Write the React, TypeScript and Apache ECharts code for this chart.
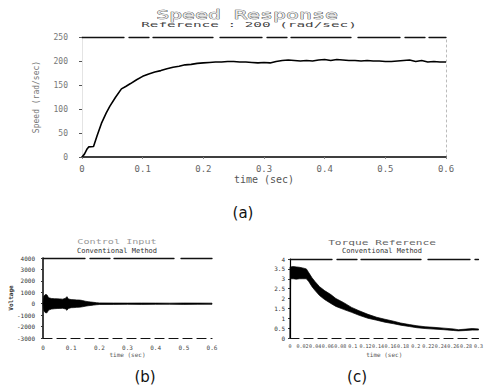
import React, { useEffect, useRef } from "react";
import * as echarts from "echarts";

// (a) Speed response, reference 200 rad/sec
const speedTime = [
  0, 0.004, 0.008, 0.011, 0.019, 0.025, 0.032, 0.04, 0.046, 0.055, 0.065, 0.072,
  0.08, 0.09, 0.1, 0.11, 0.12, 0.13, 0.14, 0.15, 0.16, 0.17, 0.18, 0.19, 0.2,
  0.21, 0.22, 0.23, 0.24, 0.25, 0.26, 0.27, 0.28, 0.29, 0.3, 0.31, 0.32, 0.33,
  0.34, 0.35, 0.36, 0.37, 0.38, 0.39, 0.4, 0.41, 0.42, 0.43, 0.44, 0.45, 0.46,
  0.47, 0.48, 0.49, 0.5, 0.51, 0.52, 0.53, 0.54, 0.55, 0.56, 0.57, 0.58, 0.59, 0.6,
];
const speedValue = [
  0, 6, 16, 21, 22, 45, 70, 92, 106, 124, 142, 147,
  153, 161, 168, 173, 177, 180, 184, 187, 189, 192, 193, 195, 196,
  197, 198, 198, 199, 199, 198, 198, 197, 196, 197, 196, 199, 201,
  202, 201, 200, 201, 200, 202, 203, 201, 203, 202, 201, 201, 200,
  201, 200, 200, 199, 199, 200, 201, 202, 199, 201, 198, 199, 198, 198,
];

// (b) Control input envelope (dense oscillation band)
const ctrlTime = [
  0, 0.003, 0.008, 0.014, 0.02, 0.03, 0.04, 0.05, 0.06, 0.07, 0.08, 0.085, 0.09,
  0.1, 0.11, 0.12, 0.13, 0.14, 0.15, 0.16, 0.17, 0.18, 0.19, 0.2, 0.25, 0.3,
  0.35, 0.4, 0.45, 0.5, 0.55, 0.6,
];
const ctrlUpper = [
  0, 650, 800, 780, 520, 460, 440, 430, 420, 400, 480, 620, 420,
  360, 350, 330, 320, 280, 220, 180, 150, 120, 90, 70, 60, 55,
  60, 55, 50, 60, 55, 50,
];
const ctrlLower = [
  0, -600, -780, -800, -560, -470, -440, -420, -410, -400, -460, -580, -410,
  -350, -340, -320, -300, -270, -220, -180, -150, -120, -90, -70, -60, -55,
  -60, -55, -50, -60, -55, -50,
];

// (c) Torque reference envelope
const torqueTime = [
  0, 0.001, 0.005, 0.01, 0.015, 0.02, 0.026, 0.03, 0.035, 0.04, 0.047, 0.055,
  0.065, 0.073, 0.085, 0.098, 0.11, 0.124, 0.138, 0.151, 0.165, 0.176, 0.19,
  0.202, 0.215, 0.229, 0.245, 0.26, 0.268, 0.28, 0.29, 0.3,
];
const torqueUpper = [
  3.6, 3.6, 3.62, 3.6, 3.58, 3.55, 3.5, 3.3, 3.05, 2.85, 2.6, 2.4,
  2.2, 2.0, 1.8, 1.55, 1.38, 1.2, 1.05, 0.95, 0.85, 0.76, 0.68,
  0.62, 0.57, 0.54, 0.5, 0.46, 0.42, 0.45, 0.48, 0.46,
];
const torqueLower = [
  0, 3.0, 3.0, 2.98, 3.0, 3.0, 3.0, 2.85, 2.6, 2.4, 2.15, 1.95,
  1.75, 1.6, 1.45, 1.3, 1.15, 1.0, 0.9, 0.8, 0.72, 0.65, 0.58,
  0.52, 0.48, 0.45, 0.42, 0.38, 0.36, 0.38, 0.4, 0.4,
];

const MONO = "'DejaVu Sans Mono', monospace";
const SANS = "'DejaVu Sans', sans-serif";

const fmt = (v: number) => String(+v.toFixed(2));

function bandRenderItem(params: any, api: any) {
  if (params.dataIndexInside !== 0) return null;
  const n = params.dataInsideLength;
  const top: number[][] = [];
  const bottom: number[][] = [];
  for (let i = 0; i < n; i++) {
    const t = api.value(0, i);
    top.push(api.coord([t, api.value(2, i)]));
    bottom.push(api.coord([t, api.value(1, i)]));
  }
  const points = top.concat(bottom.reverse());
  return {
    type: "polygon",
    shape: { points },
    style: { fill: "#000", stroke: "#000", lineWidth: 0.7 },
  };
}

const frameTop = (gridIndex: number, max: number) => ({
  gridIndex,
  type: "value",
  min: 0,
  max,
  position: "top",
  axisLine: { onZero: false, lineStyle: { color: "#111", width: 1.3, type: [42, 5, 20, 4, 60, 7] } },
  axisTick: { show: false },
  axisLabel: { show: false },
  splitLine: { show: false },
});

export default function App() {
  const ref = useRef<HTMLDivElement>(null);
  useEffect(() => {
    if (!ref.current) return;
    const chart = echarts.init(ref.current, undefined, { renderer: "svg" });
    const option: any = {
      animation: false,
      backgroundColor: "#fff",
      grid: [
        { left: 82, top: 37, width: 364, height: 120 },
        { left: 43, top: 258, width: 169, height: 80 },
        { left: 290, top: 259, width: 194, height: 79 },
      ],
      xAxis: [
        {
          gridIndex: 0,
          type: "value",
          min: 0,
          max: 0.6,
          interval: 0.1,
          axisLine: { onZero: false, lineStyle: { color: "#000", width: 1.5 } },
          axisTick: { show: true, length: 2, lineStyle: { color: "#888" } },
          axisLabel: { fontSize: 9, fontFamily: MONO, color: "#666", margin: 7, formatter: fmt },
          splitLine: { show: false },
          name: "time (sec)",
          nameLocation: "middle",
          nameGap: 17,
          nameTextStyle: { fontSize: 10, fontFamily: MONO, color: "#555" },
        },
        frameTop(0, 0.6),
        {
          gridIndex: 1,
          type: "value",
          min: 0,
          max: 0.6,
          interval: 0.1,
          axisLine: { onZero: false, lineStyle: { color: "#111", width: 1.2, type: [9, 5] } },
          axisTick: { show: false },
          axisLabel: { fontSize: 6, fontFamily: MONO, color: "#444", margin: 6, formatter: fmt },
          splitLine: { show: false },
          name: "time (sec)",
          nameLocation: "middle",
          nameGap: 13,
          nameTextStyle: { fontSize: 6, fontFamily: MONO, color: "#555" },
        },
        frameTop(1, 0.6),
        {
          gridIndex: 2,
          type: "value",
          min: 0,
          max: 0.3,
          interval: 0.02,
          axisLine: { onZero: false, lineStyle: { color: "#111", width: 1.2, type: [9, 5] } },
          axisTick: { show: false },
          axisLabel: { fontSize: 5, fontFamily: MONO, color: "#444", margin: 5, interval: 0, formatter: fmt },
          splitLine: { show: false },
          name: "time (sec)",
          nameLocation: "middle",
          nameGap: 13,
          nameTextStyle: { fontSize: 6, fontFamily: MONO, color: "#555" },
        },
        frameTop(2, 0.3),
      ],
      yAxis: [
        {
          gridIndex: 0,
          type: "value",
          min: 0,
          max: 250,
          interval: 50,
          axisLine: { show: true, onZero: false, lineStyle: { color: "#e4e4e4", width: 1 } },
          axisTick: { show: true, length: 3, lineStyle: { color: "#555" } },
          axisLabel: { fontSize: 8, fontFamily: MONO, color: "#777", margin: 14 },
          splitLine: { show: false },
          name: "Speed (rad/sec)",
          nameLocation: "middle",
          nameGap: 42,
          nameTextStyle: { fontSize: 8, fontFamily: MONO, color: "#777" },
        },
        {
          gridIndex: 0,
          type: "value",
          min: 0,
          max: 250,
          position: "right",
          axisLine: { show: true, onZero: false, lineStyle: { color: "#bbb", width: 1, type: [2, 3] } },
          axisTick: { show: false },
          axisLabel: { show: false },
          splitLine: { show: false },
        },
        {
          gridIndex: 1,
          type: "value",
          min: -3000,
          max: 4000,
          interval: 1000,
          axisLine: { show: true, onZero: false, lineStyle: { color: "#000", width: 1.5 } },
          axisTick: { show: true, length: 2, lineStyle: { color: "#333" } },
          axisLabel: { fontSize: 6, fontFamily: MONO, color: "#333", margin: 8, formatter: (v: number) => String(v) },
          splitLine: { show: false },
          name: "Voltage",
          nameLocation: "middle",
          nameGap: 29,
          nameTextStyle: { fontSize: 6, fontFamily: MONO, color: "#333", fontWeight: "bold" },
        },
        {
          gridIndex: 2,
          type: "value",
          min: 0,
          max: 4,
          interval: 0.5,
          axisLine: { show: true, onZero: false, lineStyle: { color: "#000", width: 1.2 } },
          axisTick: { show: true, length: 2, lineStyle: { color: "#333" } },
          axisLabel: { fontSize: 6, fontFamily: MONO, color: "#333", margin: 5 },
          splitLine: { show: false },
        },
      ],
      series: [
        {
          name: "Speed",
          type: "line",
          xAxisIndex: 0,
          yAxisIndex: 0,
          data: speedTime.map((t, i) => [t, speedValue[i]]),
          showSymbol: false,
          symbol: "none",
          lineStyle: { color: "#000", width: 1.6 },
          z: 3,
        },
        {
          name: "Control Input",
          type: "custom",
          xAxisIndex: 2,
          yAxisIndex: 2,
          data: ctrlTime.map((t, i) => [t, ctrlLower[i], ctrlUpper[i]]),
          encode: { x: 0, y: [1, 2] },
          renderItem: bandRenderItem,
          z: 3,
        },
        {
          name: "Torque Reference",
          type: "custom",
          xAxisIndex: 4,
          yAxisIndex: 3,
          data: torqueTime.map((t, i) => [t, torqueLower[i], torqueUpper[i]]),
          encode: { x: 0, y: [1, 2] },
          renderItem: bandRenderItem,
          z: 3,
        },
      ],
      graphic: [
        {
          type: "text",
          x: 247,
          y: 14,
          scaleX: 1.66,
          style: {
            text: "Speed Response",
            fontSize: 13,
            fontFamily: MONO,
            fill: "#e6e6e6",
            stroke: "#333",
            lineWidth: 0.6,
            textAlign: "center",
            textVerticalAlign: "middle",
          },
        },
        {
          type: "text",
          x: 249,
          y: 25,
          scaleX: 2.05,
          style: {
            text: "Reference : 200 (rad/sec)",
            fontSize: 7,
            fontFamily: MONO,
            fill: "#444",
            textAlign: "center",
            textVerticalAlign: "middle",
          },
        },
        {
          type: "text",
          x: 117,
          y: 242,
          scaleX: 1.45,
          style: {
            text: "Control Input",
            fontSize: 7,
            fontFamily: MONO,
            fill: "#999",
            textAlign: "center",
            textVerticalAlign: "middle",
          },
        },
        {
          type: "text",
          x: 117,
          y: 251,
          style: {
            text: "Conventional Method",
            fontSize: 7,
            fontFamily: MONO,
            fill: "#333",
            textAlign: "center",
            textVerticalAlign: "middle",
          },
        },
        {
          type: "text",
          x: 382,
          y: 242,
          scaleX: 1.6,
          style: {
            text: "Torque Reference",
            fontSize: 7,
            fontFamily: MONO,
            fill: "#666",
            textAlign: "center",
            textVerticalAlign: "middle",
          },
        },
        {
          type: "text",
          x: 382,
          y: 251,
          style: {
            text: "Conventional Method",
            fontSize: 7,
            fontFamily: MONO,
            fill: "#333",
            textAlign: "center",
            textVerticalAlign: "middle",
          },
        },
        {
          type: "text",
          x: 243,
          y: 213,
          style: { text: "(a)", fontSize: 15, fontFamily: SANS, fill: "#111", textAlign: "center", textVerticalAlign: "middle" },
        },
        {
          type: "text",
          x: 145,
          y: 377,
          style: { text: "(b)", fontSize: 15, fontFamily: SANS, fill: "#111", textAlign: "center", textVerticalAlign: "middle" },
        },
        {
          type: "text",
          x: 357,
          y: 377,
          style: { text: "(c)", fontSize: 15, fontFamily: SANS, fill: "#111", textAlign: "center", textVerticalAlign: "middle" },
        },
      ],
    };
    chart.setOption(option);
    return () => chart.dispose();
  }, []);
  return (
    <div
      ref={ref}
      style={{ position: "absolute", left: 0, top: 0, width: 486, height: 390, background: "#fff" }}
    />
  );
}
